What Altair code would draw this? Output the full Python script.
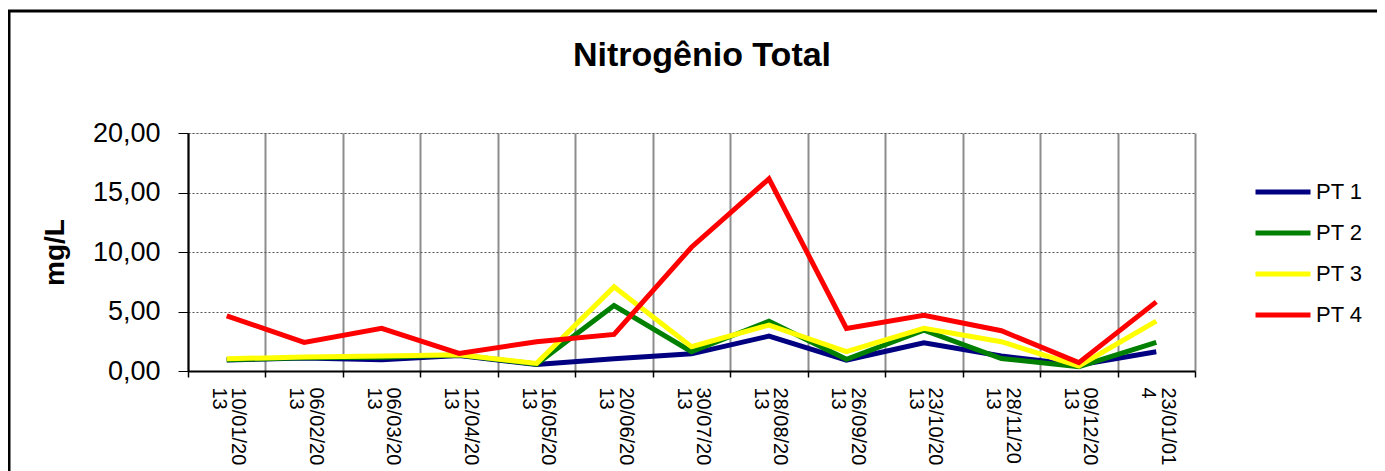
import altair as alt
import pandas as pd

dates = ["10/01/2013", "06/02/2013", "06/03/2013", "12/04/2013", "16/05/2013",
         "20/06/2013", "30/07/2013", "28/08/2013", "26/09/2013", "23/10/2013",
         "28/11/2013", "09/12/2013", "23/01/014"]
series_names = ["PT 1", "PT 2", "PT 3", "PT 4"]
pt1 = [0.92, 1.10, 0.95, 1.30, 0.55, 1.03, 1.44, 2.93, 0.92, 2.37, 1.26, 0.50, 1.62]
pt2 = [0.95, 1.12, 1.15, 1.35, 0.58, 5.50, 1.62, 4.19, 0.98, 3.44, 1.05, 0.36, 2.40]
pt3 = [1.03, 1.17, 1.26, 1.37, 0.64, 7.07, 2.04, 3.86, 1.62, 3.58, 2.46, 0.42, 4.19]
pt4 = [4.64, 2.40, 3.58, 1.48, 2.46, 3.07, 10.40, 16.15, 3.58, 4.69, 3.38, 0.70, 5.81]
colors = ["#000080", "#008000", "#FFFF00", "#FF0000"]
title_text = "Nitrogênio Total"

rows = []
for name, vals in zip(series_names, [pt1, pt2, pt3, pt4]):
    for d, v in zip(dates, vals):
        rows.append({"Data": d, "Série": name, "Valor": v})
df = pd.DataFrame(rows)

FONT = "Liberation Sans"

lines = alt.Chart(df).mark_line(strokeWidth=5, strokeJoin="miter").encode(
    x=alt.X("Data:N", sort=dates, scale=alt.Scale(paddingInner=0, paddingOuter=0),
            axis=alt.Axis(title=None, labelAngle=90, labelAlign="left", labelBaseline="middle",
                          labelFontSize=20, labelLineHeight=19.5, labelPadding=10,
                          labelOffset=11,
                          labelExpr="[substring(datum.label,0,8), substring(datum.label,8)]",
                          tickBand="extent", tickSize=6, tickColor="#000", tickWidth=1.5,
                          domainColor="#000", domainWidth=2,
                          grid=True, gridColor="#8c8c8c", gridWidth=2,
                          labelColor="#000", labelFont=FONT)),
    y=alt.Y("Valor:Q", scale=alt.Scale(domain=[0, 20], nice=False),
            axis=alt.Axis(title="mg/L", values=[0, 5, 10, 15, 20],
                          labelExpr="replace(format(datum.value, '.2f'), '.', ',')",
                          labelFontSize=27, labelPadding=18, labelColor="#000", labelFont=FONT,
                          tickSize=10, tickColor="#000", tickWidth=1,
                          domainColor="#000", domainWidth=2,
                          grid=True, gridColor="#555", gridDash=[2, 2], gridWidth=1,
                          titleFontSize=28, titleFont=FONT, titleFontWeight="bold",
                          titleColor="#000", titleAngle=-90, titleX=-125, titleY=119,
                          titleAlign="center", titleBaseline="alphabetic")),
    color=alt.Color("Série:N", sort=series_names,
                    scale=alt.Scale(domain=series_names, range=colors),
                    legend=alt.Legend(title=None, orient="none", legendX=1065, legendY=29,
                                      symbolType="stroke", symbolSize=3025, symbolStrokeWidth=5,
                                      rowPadding=-20, labelFontSize=22, labelFont=FONT,
                                      labelColor="#000", labelOffset=3, padding=0)),
    order=alt.Order("Série:N"),
)

frame = alt.Chart(pd.DataFrame({"a": [0]})).mark_rect(
    fill=None, stroke="#000", strokeWidth=3
).encode(
    x=alt.value(-179), x2=alt.value(1215), y=alt.value(-122), y2=alt.value(360)
)

title = alt.Chart(pd.DataFrame({"t": [title_text]})).mark_text(
    font=FONT, fontSize=34, fontWeight="bold", color="#000",
    align="center", baseline="alphabetic"
).encode(x=alt.value(514), y=alt.value(-67), text="t:N")

chart = alt.layer(lines, frame, title).properties(
    width=1007, height=238,
    autosize=alt.AutoSizeParams(type="none"),
    padding={"left": 180, "top": 125, "right": 182, "bottom": 100},
).configure_view(stroke=None).configure(background="white")

chart.save("out.html", embed_options={"renderer": "svg", "actions": False})
